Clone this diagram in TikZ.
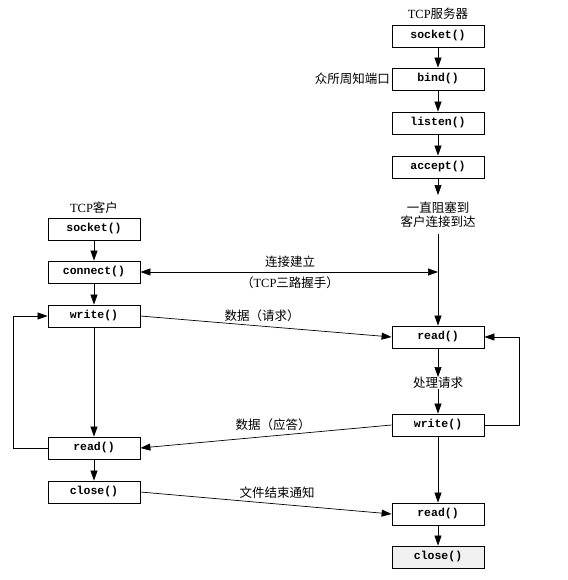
\documentclass[tikz,border=0pt]{standalone}
\usepackage{fontspec}
\setmainfont{Liberation Serif}
\setmonofont{Liberation Mono}
\newfontfamily\cjk{Noto Sans CJK SC}
\usetikzlibrary{arrows.meta}
\begin{document}
\begin{tikzpicture}[x=1pt,y=-1pt,
  fn/.style={draw, line width=0.8pt, minimum width=92pt, minimum height=22pt, inner sep=0pt,
    font=\fontsize{11.5}{13}\ttfamily\bfseries},
  lbl/.style={inner sep=0pt, font=\fontsize{12.5}{14}\selectfont},
  tip/.style={},
  conn/.style={line width=0.7pt, -{Triangle[length=10pt,width=7pt]}},
  line/.style={line width=0.7pt}]
\useasboundingbox (0,0) rectangle (567,580);
% server
\node[lbl] (stitle) at (438,14) {TCP{\cjk 服务器}};
\node[fn] (ssocket) at (438,36) {socket()};
\node[fn] (sbind) at (438,79) {bind()};
\node[lbl,anchor=east] (port) at (390,79) {\cjk 众所周知端口};
\node[fn] (slisten) at (438,123) {listen()};
\node[fn] (saccept) at (438,167) {accept()};
\coordinate (sblk) at (438,195);
\node[lbl] (block1) at (438,208) {\cjk 一直阻塞到};
\node[lbl] (block2) at (438,222) {\cjk 客户连接到达};
\coordinate (sres) at (438,234);
\node[fn] (sread) at (438,337) {read()};
\node[lbl] (proc) at (438,383) {\cjk 处理请求};
\node[fn] (swrite) at (438,425) {write()};
\node[fn] (sread2) at (438,514) {read()};
\node[fn, fill=gray!12] (sclose) at (438,557) {close()};
\coordinate (shs) at (438,272);
% client
\node[lbl] (ctitle) at (94,208) {TCP{\cjk 客户}};
\node[fn] (csocket) at (94,229) {socket()};
\node[fn] (cconnect) at (94,272) {connect()};
\node[fn] (cwrite) at (94,316) {write()};
\node[fn] (cread) at (94,448) {read()};
\node[fn] (cclose) at (94,492) {close()};
% server vertical
\draw[conn] (ssocket) -- (sbind);
\draw[conn] (sbind) -- (slisten);
\draw[conn] (slisten) -- (saccept);
\draw[conn] (saccept) -- (sblk);
\draw[conn] (sres) -- (sread);
\draw[conn] (sread) -- (proc);
\draw[conn] (proc) -- (swrite);
\draw[conn] (swrite) -- (sread2);
\draw[conn] (sread2) -- (sclose);
\draw[conn] (swrite.east) -- (519,425) -- (519,337) -- (sread.east);
% client vertical
\draw[conn] (csocket) -- (cconnect);
\draw[conn] (cconnect) -- (cwrite);
\draw[conn] (cwrite) -- (cread);
\draw[conn] (cread) -- (cclose);
\draw[conn] (cread.west) -- (13,448) -- (13,316) -- (cwrite.west);
% cross
\draw[line width=0.7pt, {Triangle[length=10pt,width=7pt]}-{Triangle[length=10pt,width=7pt]}] (cconnect.east) -- (shs);
\node[lbl] (hs1) at (290,262) {\cjk 连接建立};
\node[lbl] (hs2) at (290,283) {{\cjk （}TCP{\cjk 三路握手）}};
\draw[conn] (cwrite.east) -- (sread.west);
\node[lbl] (req) at (262,316) {\cjk 数据（请求）};
\draw[conn] (swrite.west) -- (cread.east);
\node[lbl] (resp) at (273,425) {\cjk 数据（应答）};
\draw[conn] (cclose.east) -- (sread2.west);
\node[lbl] (eof) at (277,493) {\cjk 文件结束通知};
\end{tikzpicture}
\end{document}
